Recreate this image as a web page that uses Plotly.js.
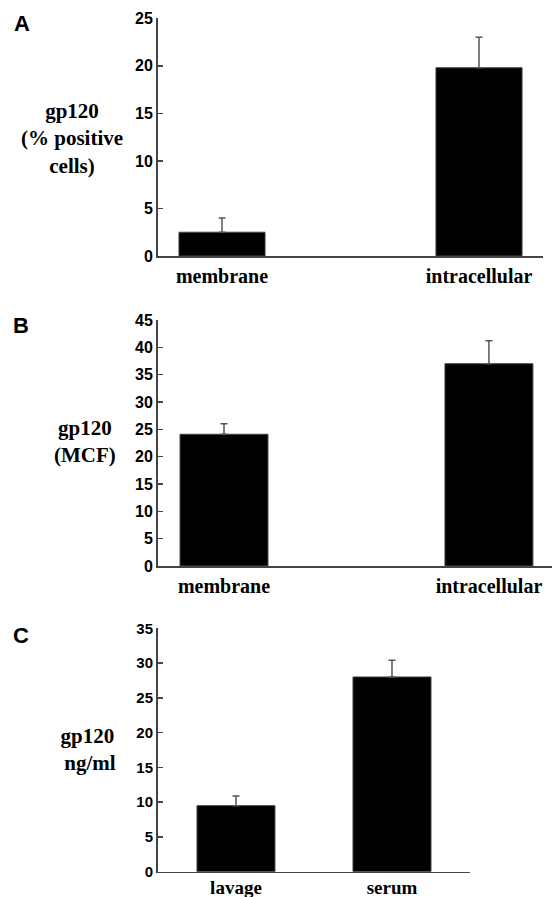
<!DOCTYPE html>
<html>
<head>
<meta charset="utf-8">
<script src="https://cdn.plot.ly/plotly-3.0.1.min.js"></script>
<style>html,body{margin:0;padding:0;background:#fff;}#chart{width:552px;height:897px;}</style>
</head>
<body>
<div id="chart"></div>
<script>
// Panel A: gp120 (% positive cells)
const catsA = ["membrane", "intracellular"];
const valsA = [2.5, 19.8];
const errA = [1.5, 3.2];
// Panel B: gp120 (MCF)
const catsB = ["membrane", "intracellular"];
const valsB = [24.1, 37.0];
const errB = [1.9, 4.2];
// Panel C: gp120 ng/ml
const catsC = ["lavage", "serum"];
const valsC = [9.5, 28.0];
const errC = [1.4, 2.4];
const ticksA = [0, 5, 10, 15, 20, 25];
const ticksB = [0, 5, 10, 15, 20, 25, 30, 35, 40, 45];
const ticksC = [0, 5, 10, 15, 20, 25, 30, 35];

const W = 552, H = 897;
const px = x => x / W;
const py = y => 1 - y / H;

function barTrace(cats, vals, err, xa, ya, width) {
  return {
    type: 'bar', x: cats.map((c, i) => i), y: vals,
    xaxis: xa, yaxis: ya, width: width,
    marker: {color: '#000', line: {color: '#444', width: 1}},
    error_y: {type: 'data', array: err, symmetric: false, arrayminus: err.map(() => 0),
              color: '#555', thickness: 1.5, width: 3.5},
    hoverinfo: 'none', showlegend: false
  };
}

const data = [
  barTrace(catsA, valsA, errA, 'x', 'y', 0.335),
  barTrace(catsB, valsB, errB, 'x2', 'y2', 0.332),
  barTrace(catsC, valsC, errC, 'x3', 'y3', 0.5)
];

const axisLine = {showline: true, linecolor: '#444', linewidth: 1.5, zeroline: false, showgrid: false};
function xAxis(cats, range, domain, anchor, size, standoff) {
  return Object.assign({}, axisLine, {
    domain: domain, anchor: anchor, range: range, tickmode: 'array',
    tickvals: cats.map((c, i) => i), ticktext: cats, ticks: '',
    tickfont: {family: 'Liberation Serif', size: size, color: '#000', weight: 'bold'},
    ticklabelstandoff: standoff, fixedrange: true
  });
}
function yAxis(ticks, range, domain, anchor, size) {
  return Object.assign({}, axisLine, {
    domain: domain, anchor: anchor, range: range, tickmode: 'array', tickvals: ticks,
    ticks: 'inside', ticklen: 5, tickwidth: 1.5, tickcolor: '#444',
    tickfont: {family: 'Liberation Sans', size: size, color: '#000', weight: 'bold'},
    fixedrange: true
  });
}

const titleFont = {family: 'Liberation Serif', size: 21, color: '#000', weight: 'bold'};
const letterFont = {family: 'Liberation Sans', size: 22, color: '#000', weight: 'bold'};
function ann(text, x, y, font) {
  return {text: text, x: px(x), y: py(y), xref: 'paper', yref: 'paper', showarrow: false,
          xanchor: 'center', yanchor: 'middle', align: 'center', font: font};
}

const layout = {
  width: W, height: H, margin: {l: 0, r: 0, t: 0, b: 0},
  paper_bgcolor: '#fff', plot_bgcolor: '#fff', bargap: 0,
  xaxis: xAxis(catsA, [-0.251, 1.249], [px(157.5), px(543)], 'y', 20, 1),
  yaxis: yAxis(ticksA, [0, 25], [py(256), py(18.3)], 'x', 16),
  xaxis2: xAxis(catsB, [-0.251, 1.238], [px(157.5), 1], 'y2', 20, 1),
  yaxis2: yAxis(ticksB, [0, 45], [py(566), py(320)], 'x2', 16),
  xaxis3: xAxis(catsC, [-0.503, 1.5], [px(157.5), px(470)], 'y3', 19, -2),
  yaxis3: yAxis(ticksC, [0, 35], [py(871.7), py(628.3)], 'x3', 15),
  annotations: [
    ann('A', 22, 24, letterFont),
    ann('B', 21, 325, letterFont),
    ann('C', 21, 635, letterFont),
    ann('gp120<br>(% positive<br>cells)', 72, 139, titleFont),
    ann('gp120<br>(MCF)', 85, 441, titleFont),
    ann('gp120<br> ng/ml', 87, 749, titleFont)
  ]
};

Plotly.newPlot('chart', data, layout, {displayModeBar: false, staticPlot: true});
</script>
</body>
</html>
